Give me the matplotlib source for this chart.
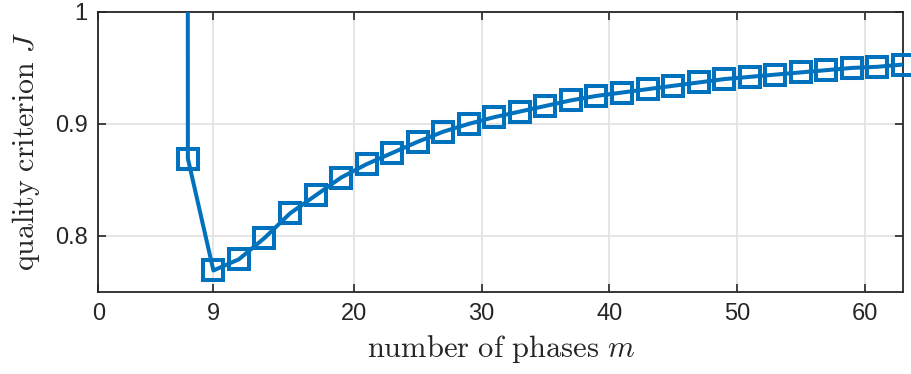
import numpy as np
import matplotlib
matplotlib.use("Agg")
import matplotlib.pyplot as plt

# number of phases m and quality criterion J (m=5 lies far above the plot)
phases = [5, 7, 9, 11, 13, 15, 17, 19, 21, 23, 25, 27, 29, 31, 33, 35, 37, 39,
          41, 43, 45, 47, 49, 51, 53, 55, 57, 59, 61, 63]
quality = [50.0, 0.869, 0.769, 0.779, 0.798, 0.820, 0.836, 0.852, 0.864, 0.874,
           0.884, 0.893, 0.900, 0.906, 0.911, 0.916, 0.921, 0.925, 0.928, 0.931,
           0.934, 0.937, 0.940, 0.942, 0.944, 0.946, 0.948, 0.950, 0.951, 0.953]
xticks = [0, 9, 20, 30, 40, 50, 60]
yticks = [0.8, 0.9, 1.0]
yticklabels = ["0.8", "0.9", "1"]

blue = "#0072BD"
dark = "#262626"

plt.rcParams["font.family"] = ["Liberation Sans", "DejaVu Sans"]
plt.rcParams["mathtext.fontset"] = "cm"

fig = plt.figure(figsize=(9.12, 3.74), dpi=100)
ax = fig.add_axes([0.108, 0.220, 0.882, 0.748])

x = np.array(phases)
y = np.array(quality)
ax.plot(x, y, color=blue, lw=2.9, zorder=3)
vis = y <= 1.0
ax.plot(x[vis], y[vis], ls="none", marker="s", ms=14, mew=2.9,
        mfc="none", mec=blue, clip_on=False, zorder=4)

ax.set_xlim(0, 63)
ax.set_ylim(0.75, 1.0)
ax.set_xticks(xticks)
ax.set_yticks(yticks)
ax.set_yticklabels(yticklabels)

ax.grid(True, color="#e3e3e3", lw=1.3)
ax.set_axisbelow(True)
ax.tick_params(direction="in", length=6, width=1.2, colors=dark,
               labelsize=17, top=True, right=True, pad=8)
for s in ax.spines.values():
    s.set_color(dark)
    s.set_linewidth(1.3)

ax.set_xlabel(r"$\mathrm{number\ of\ phases}\ m$", fontsize=22, color=dark, labelpad=6)
ax.set_ylabel(r"$\mathrm{quality\ criterion}\ J$", fontsize=21.5, color=dark, labelpad=9)

fig.savefig("out.png", dpi=100)
